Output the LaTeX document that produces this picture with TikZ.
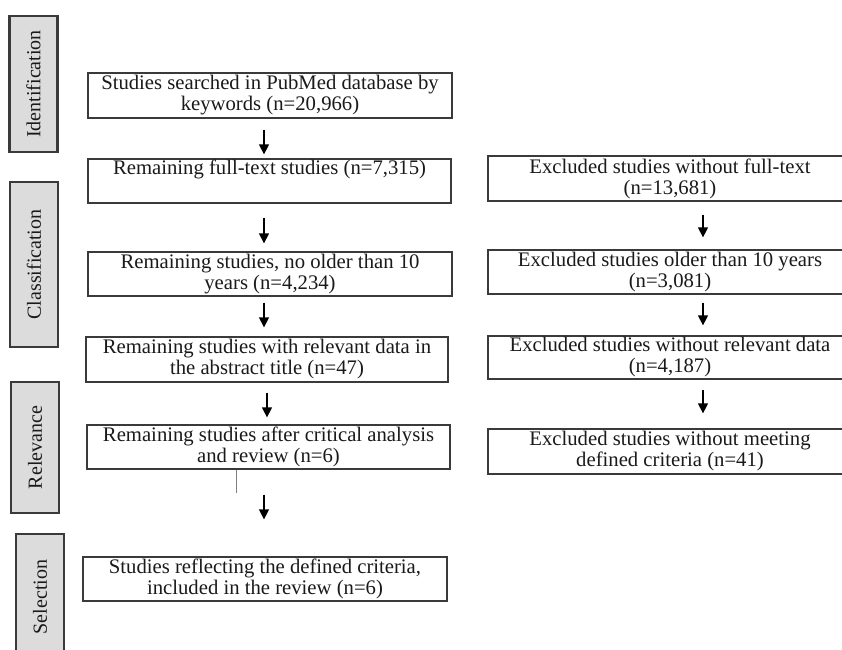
\documentclass[tikz,border=0pt]{standalone}
\usepackage{fontspec}
\setmainfont{Liberation Serif}
\usetikzlibrary{arrows.meta}
\definecolor{boxline}{HTML}{3A3A3A}
\definecolor{barfill}{HTML}{DCDCDC}
\definecolor{txt}{HTML}{1A1A1A}
\tikzset{
  box/.style={draw=boxline, line width=1.3pt, fill=white, rectangle, inner sep=0pt,
    align=center, text=txt, font=\fontsize{20.7}{21}\selectfont, minimum height=44pt},
  lbox/.style={box, minimum width=363pt},
  rbox/.style={box, minimum width=364pt},
  bar/.style={draw=boxline, line width=2.4pt, fill=barfill, rectangle, rotate=90,
    inner sep=0pt, minimum height=48pt, text=txt, font=\fontsize{20}{21}\selectfont},
  arr/.style={line width=1.3pt, black, -{Triangle[width=10pt,length=10pt]}},
  thinline/.style={line width=0.7pt, gray}
}
\begin{document}
\begin{tikzpicture}[x=1pt,y=-1pt]
\useasboundingbox (0,0) rectangle (842,649);
\clip (0,0) rectangle (842,649);
% side bars
\node[bar, minimum width=136pt] (s1) at (33.5,84) {Identification};
\node[bar, minimum width=165pt] (s2) at (34,264.5) {Classification};
\node[bar, minimum width=131pt] (s3) at (35,447.5) {Relevance};
\node[bar, minimum width=126pt] (s4) at (40,597) {Selection};
% left column
\node[lbox, minimum width=364pt, minimum height=45pt] (b1) at (270,95.5) {Studies searched in PubMed database by\\keywords (n=20,966)};
\node[lbox] (b2) at (269.5,181) {Remaining full-text studies (n=7,315)\\\strut};
\node[lbox, minimum width=364pt] (b3) at (270,274) {Remaining studies, no older than 10\\years (n=4,234)};
\node[lbox, minimum width=362pt, minimum height=45pt] (b4) at (267,359.5) {Remaining studies with relevant data in\\the abstract title (n=47)};
\node[lbox] (b5) at (268.5,447) {Remaining studies after critical analysis\\and review (n=6)};
\node[lbox, minimum width=364pt] (b6) at (265,579) {Studies reflecting the defined criteria,\\included in the review (n=6)};
% right column
\node[rbox, minimum height=45pt] (r1) at (670,178.5) {Excluded studies without full-text\\(n=13,681)};
\node[rbox] (r2) at (670,272) {Excluded studies older than 10 years\\(n=3,081)};
\node[rbox, minimum height=43pt] (r3) at (670,357.5) {Excluded studies without relevant data\\(n=4,187)};
\node[rbox, minimum height=45pt] (r4) at (670,451.5) {Excluded studies without meeting\\defined criteria (n=41)};
% left arrows
\draw[arr] ([xshift=-6pt,yshift=-11pt]b1.south) -- ([xshift=-5.5pt,yshift=4pt]b2.north);
\draw[arr] ([xshift=-5.5pt,yshift=-14pt]b2.south) -- ([xshift=-6pt,yshift=8pt]b3.north);
\draw[arr] ([xshift=-6pt,yshift=-6pt]b3.south) -- ([xshift=-3pt,yshift=9pt]b4.north);
\draw[arr] ([xshift=0pt,yshift=-10pt]b4.south) -- ([xshift=-1.5pt,yshift=7pt]b5.north);
\draw[thinline] ([xshift=-32.5pt]b5.south) -- ++(0,23);
\draw[arr] ([xshift=-4.5pt,yshift=-25pt]b5.south) -- ([xshift=-1pt,yshift=37pt]b6.north);
% right arrows
\draw[arr] ([xshift=33pt,yshift=-13pt]r1.south) -- ([xshift=33pt,yshift=12pt]r2.north);
\draw[arr] ([xshift=33pt,yshift=-8pt]r2.south) -- ([xshift=33pt,yshift=10pt]r3.north);
\draw[arr] ([xshift=33pt,yshift=-10pt]r3.south) -- ([xshift=33pt,yshift=15pt]r4.north);
\end{tikzpicture}
\end{document}
